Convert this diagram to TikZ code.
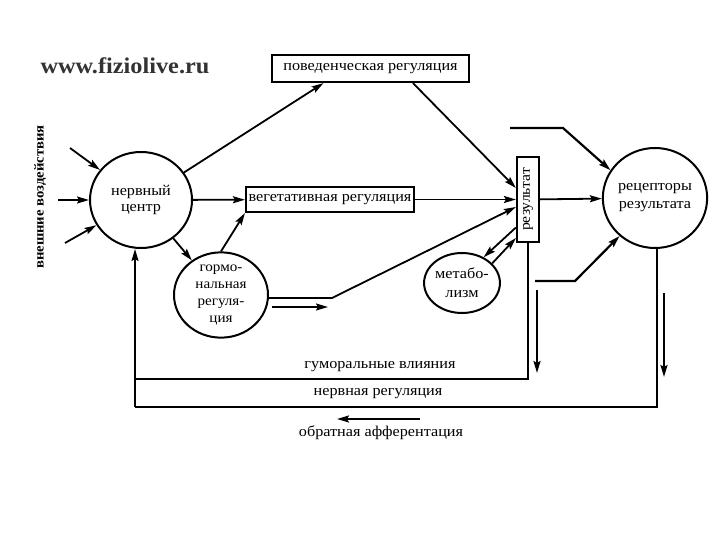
\documentclass[tikz,border=0pt]{standalone}
\usepackage{fontspec}
\setmainfont{Liberation Serif}[FakeStretch=1.08]
\usetikzlibrary{arrows.meta,shapes.geometric}
\begin{document}
\begin{tikzpicture}[x=1pt,y=-1pt,
  arr/.style={-{Stealth[length=12pt,width=7pt,inset=2pt]},line width=1.8pt},
  ln/.style={line width=2pt},
  circ/.style={draw,ellipse,line width=2pt,inner sep=0pt,align=center,font=\fontsize{15}{15.5}\selectfont},
  box/.style={draw,line width=2.2pt,inner sep=0pt,font=\fontsize{15}{16}\selectfont},
  lbl/.style={font=\fontsize{15}{16}\selectfont}]
\useasboundingbox (0,0) rectangle (720,540);
\fill[white] (0,0) rectangle (720,540);

\node[font=\fontsize{22.5}{26}\selectfont\bfseries, text=black!80] (title) at (125,66) {www.fiziolive.ru};
\node[rotate=90,font=\fontsize{13.6}{15}\selectfont\bfseries] (ext) at (40,197) {внешние воздействия};

\node[circ,minimum width=102,minimum height=96] (nc) at (141,200) {нервный\\центр};
\node[circ,minimum width=94,minimum height=76,font=\fontsize{14}{17}\selectfont] (horm) at (221,295) {гормо-\\нальная\\регуля-\\ция};
\node[circ,minimum width=72,minimum height=60,font=\fontsize{15}{19}\selectfont] (met) at (462,283) {метабо-\\лизм};
\node[circ,minimum width=102,minimum height=100,font=\fontsize{15}{18}\selectfont] (rec) at (655,198) {рецепторы\\результата};

\node[box,minimum width=197,minimum height=27] (pov) at (370.5,68.5) {поведенческая регуляция};
\node[box,minimum width=168,minimum height=25] (veg) at (330,199.5) {вегетативная регуляция};
\node[box,minimum width=22,minimum height=85] (res) at (528,199.5) {};
\node[rotate=90,font=\fontsize{14.5}{15}\selectfont] (restext) at (res.center) {результат};

% external influences
\coordinate (e1) at (70,148);
\coordinate (e2) at (58,200);
\coordinate (e3) at (65,243);
\draw[arr] (e1) -- (nc);
\draw[arr] (e2) -- (nc);
\draw[arr] (e3) -- (nc);

% from nervous centre
\draw[arr] (nc) -- ([xshift=-47pt]pov.south);
\draw[arr] (nc) -- (veg);
\draw[arr] (nc) -- (horm);
\draw[arr] (horm.north) -- (veg.south west);

% into result
\coordinate (hb) at (332,298);
\draw[arr] (horm.east |- hb) -- (hb) -- ([yshift=-7.5pt]res.west);
\draw[arr] ([xshift=42.5pt]pov.south) -- ([yshift=11.5pt]res.west);
\draw[arr] (veg) -- (res);
\draw[arr] ([yshift=-28pt]res.west) -- (met.50);
\draw[arr] (met.33) -- ([yshift=-38.5pt]res.west);
\draw[arr] (res) -- (rec);

% small free arrow
\coordinate (s1) at (272,307);
\coordinate (s2) at (328,307);
\draw[arr] (s1) -- (s2);

% free arrows into receptors
\coordinate (t1) at (510,128);
\coordinate (t2) at (563,128);
\draw[arr,line width=2.2pt] (t1) -- (t2) -- (rec.148);
\coordinate (b1) at (535,281);
\coordinate (b2) at (575,281);
\draw[arr,line width=2.2pt] (b1) -- (b2) -- (rec.227);

% down arrows
\coordinate (d1s) at (537,290);
\coordinate (d1e) at (537,373);
\draw[arr,line width=2.2pt] (d1s) -- (d1e);
\coordinate (d2s) at (664,293);
\coordinate (d2e) at (664,377);
\draw[arr,line width=2.2pt] (d2s) -- (d2e);

% feedback
\coordinate (fbi) at (135,379);
\coordinate (fbo) at (135,407);
\draw[ln] (res.south) |- (fbi);
\draw[ln] ([xshift=2pt]rec.south) |- (fbo);
\draw[arr] (fbo) -- (nc.south -| fbo);

\node[lbl] (hum) at (380,367) {гуморальные влияния};
\node[lbl] (nerv) at (378,394) {нервная регуляция};
\node[lbl] (aff) at (381,433) {обратная афферентация};
\coordinate (a1) at (420,419);
\coordinate (a2) at (337,419);
\draw[arr] (a1) -- (a2);
\end{tikzpicture}
\end{document}
